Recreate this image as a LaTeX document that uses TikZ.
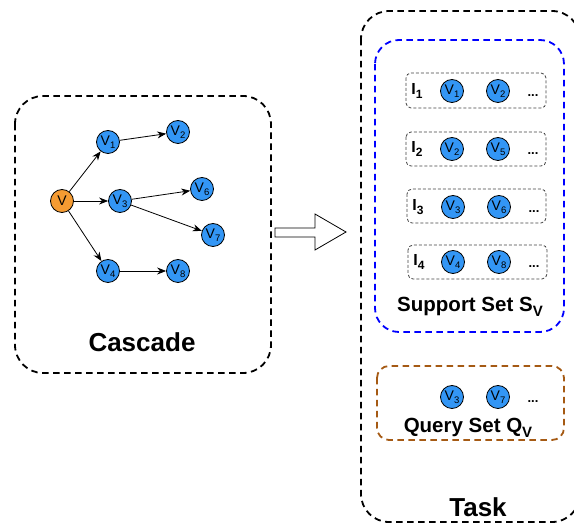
\documentclass[tikz,border=0pt]{standalone}
\usepackage{fontspec}
\setmainfont{Liberation Sans}
\usetikzlibrary{arrows.meta}
\definecolor{vblue}{RGB}{51,150,245}
\definecolor{vorange}{RGB}{245,155,50}
\definecolor{qbrown}{RGB}{165,90,20}
\newcommand{\vlab}[1]{V\raisebox{-3pt}{\fontsize{9.5}{9.5}\selectfont #1}}
\newcommand{\ilab}[1]{\textbf{I\raisebox{-3.5pt}{\fontsize{12}{12}\selectfont\bfseries #1}}}
\newcommand{\setsub}[1]{\raisebox{-4.5pt}{\fontsize{15}{15}\selectfont\bfseries #1}}

\begin{document}
\begin{tikzpicture}[x=1pt,y=-1pt,
  vnode/.style={circle, draw=black, line width=0.8pt, fill=vblue, minimum size=23pt, inner sep=0pt, font=\fontsize{14}{14}\selectfont},
  edge/.style={-{Stealth[length=9pt,width=7pt]}, line width=0.8pt},
  bigbox/.style={draw=black, line width=1.8pt, dash pattern=on 6.5pt off 4.5pt, rounded corners=28pt},
  itembox/.style={draw=black!75, line width=0.8pt, dash pattern=on 3pt off 2pt, rounded corners=5pt},
  dots/.style={font=\fontsize{13}{13}\selectfont\bfseries, anchor=base},
  title/.style={font=\fontsize{26}{26}\selectfont\bfseries, anchor=base},
  settitle/.style={font=\fontsize{20.5}{20.5}\selectfont\bfseries, anchor=base}
]
\useasboundingbox (0,0) rectangle (574,529);
\clip (0,0) rectangle (574,529);

% cascade
\draw[bigbox] (15,96) rectangle (271,373);
\node[vnode, fill=vorange] (v) at (62,201) {V};
\node[vnode] (v1) at (108,142) {\vlab{1}};
\node[vnode] (v2) at (178,132) {\vlab{2}};
\node[vnode] (v3) at (120,201) {\vlab{3}};
\node[vnode] (v6) at (202,189) {\vlab{6}};
\node[vnode] (v7) at (213,235) {\vlab{7}};
\node[vnode] (v4) at (108,271) {\vlab{4}};
\node[vnode] (v8) at (178,271) {\vlab{8}};
\draw[edge] (v) -- (v1);
\draw[edge] (v) -- (v3);
\draw[edge] (v) -- (v4);
\draw[edge] (v1) -- (v2);
\draw[edge] (v3) -- (v6);
\draw[edge] (v3) -- (v7);
\draw[edge] (v4) -- (v8);
\node[title] (cascade) at (142,352) {Cascade};

% arrow
\draw[line width=0.8pt, fill=white] (275,228) -- (315,228) -- (315,214) -- (346,232) -- (315,250) -- (315,237) -- (275,237) -- cycle;

% task
\draw[bigbox] (361,11) rectangle (580,522);
\draw[bigbox, draw=blue, rounded corners=24pt] (375,40) rectangle (564,332);

\draw[itembox] (406,73) rectangle (546,108);
\node (i1) at (417,91) {\fontsize{16}{16}\selectfont\ilab{1}};
\node[vnode] (i1a) at (452,91) {\vlab{1}};
\node[vnode] (i1b) at (498,91) {\vlab{2}};
\node[dots] (i1d) at (533,97) {...};

\draw[itembox] (406,132) rectangle (546,166);
\node (i2) at (417,149) {\fontsize{16}{16}\selectfont\ilab{2}};
\node[vnode] (i2a) at (452,149) {\vlab{2}};
\node[vnode] (i2b) at (498,149) {\vlab{5}};
\node[dots] (i2d) at (533,155) {...};

\draw[itembox] (407,189) rectangle (546,223);
\node (i3) at (418,207) {\fontsize{16}{16}\selectfont\ilab{3}};
\node[vnode] (i3a) at (453,207) {\vlab{3}};
\node[vnode] (i3b) at (499,207) {\vlab{6}};
\node[dots] (i3d) at (534,213) {...};

\draw[itembox] (408,245) rectangle (547,279);
\node (i4) at (419,262) {\fontsize{16}{16}\selectfont\ilab{4}};
\node[vnode] (i4a) at (453,262) {\vlab{4}};
\node[vnode] (i4b) at (499,262) {\vlab{8}};
\node[dots] (i4d) at (534,268) {...};

\node[settitle] (support) at (470,312) {Support Set S\setsub{V}};

\draw[bigbox, draw=qbrown, rounded corners=12pt] (377,366) rectangle (564,440);
\node[vnode] (q1) at (452,397) {\vlab{3}};
\node[vnode] (q2) at (498,397) {\vlab{7}};
\node[dots] (qd) at (533,403) {...};
\node[settitle] (query) at (468,433) {Query Set Q\setsub{V}};

\node[title] (task) at (478,517) {Task};
\end{tikzpicture}
\end{document}
